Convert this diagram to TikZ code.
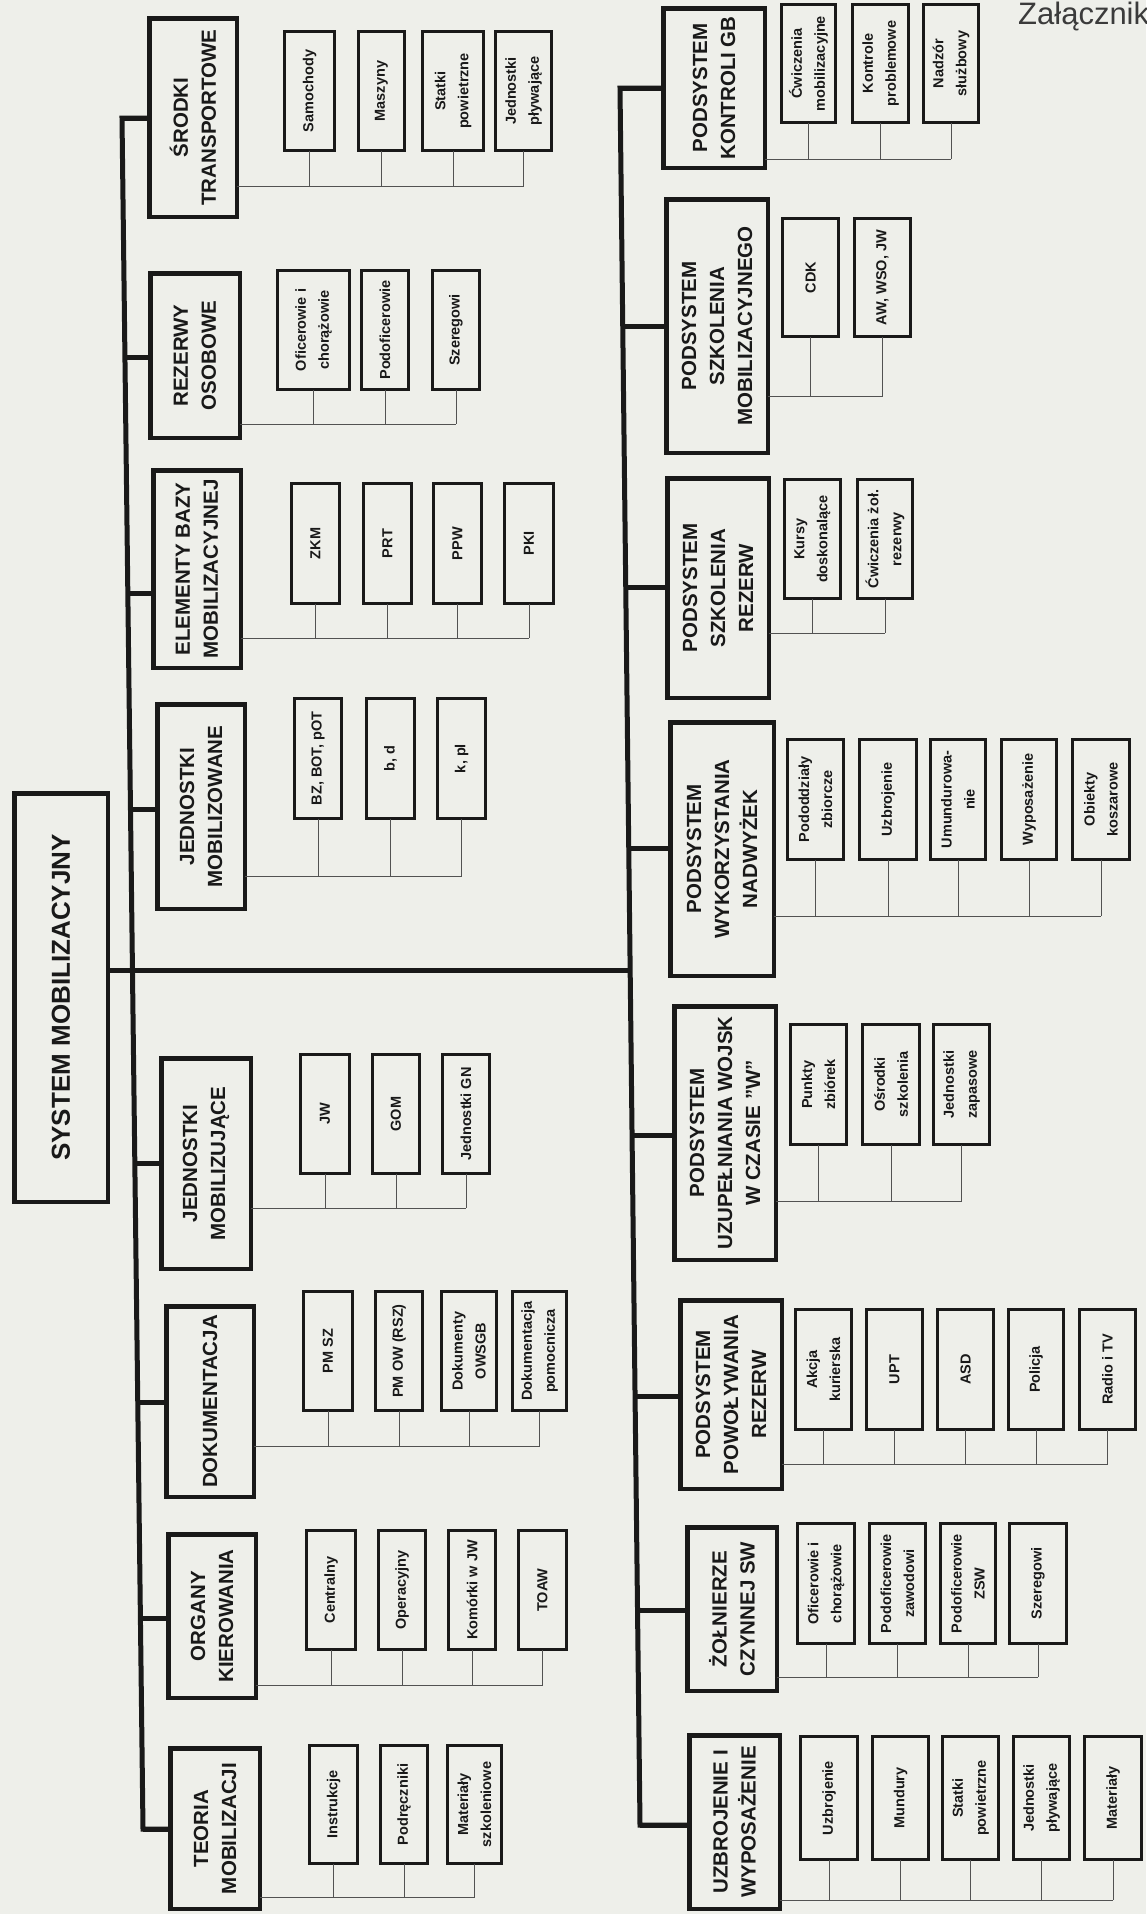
\documentclass[tikz,border=0pt]{standalone}
\usepackage{fontspec}
\setmainfont{Liberation Sans}
\definecolor{paper}{RGB}{238,239,234}
\definecolor{ink}{RGB}{25,25,25}
\tikzset{
  mainbox/.style={draw=ink, line width=4.5pt, inner sep=0pt, outer sep=0pt, align=center, rotate=90, font=\fontsize{20.5}{28}\selectfont\bfseries, text=ink},
  rootbox/.style={mainbox, font=\fontsize{26}{30}\selectfont\bfseries},
  subbox/.style={draw=ink, line width=2.7pt, inner sep=0pt, outer sep=0pt, align=center, rotate=90, font=\fontsize{14.5}{23}\selectfont\bfseries, text=ink},
  spineline/.style={draw=ink, line width=5pt, line join=miter},
  busline/.style={draw=ink!75, line width=1pt},
}
\newcommand\PutBox[8]{%
  \pgfmathsetmacro\bxa{#7-#5-#2}%
  \pgfmathsetmacro\bxb{#8-#6-#2}%
  \pgfmathsetmacro\bxx{(#5+#7)/2}%
  \pgfmathsetmacro\bxy{-(#6+#8)/2}%
  \node[#1, minimum width=\bxb pt, minimum height=\bxa pt] (#3) at (\bxx pt,\bxy pt) {#4};}
\newcommand\MainB[6]{\PutBox{mainbox}{4.5}{#1}{#2}{#3}{#4}{#5}{#6}}
\newcommand\SubB[6]{\PutBox{subbox}{2.7}{#1}{#2}{#3}{#4}{#5}{#6}}
\newcommand\Bus[4]{%
  \coordinate (bb#1) at (0pt,-#2pt);
  \draw[busline] (#1.south |- bb#1) -- (#3.west |- bb#1);
  \foreach \cn in {#4} {\draw[busline] (\cn.west) -- (\cn.west |- bb#1);}}
\newcommand\Conn[3]{%
  \coordinate (cc#1) at (#2pt,-#3pt);
  \draw[spineline] (cc#1) -- (cc#1 -| #1.north);}
\begin{document}
\begin{tikzpicture}[x=1pt,y=1pt]
\fill[paper] (0,0) rectangle (1146,-1914);
\useasboundingbox (0,0) rectangle (1146,-1914);

\node[anchor=base west, font=\fontsize{31}{31}\selectfont, text=ink!85, inner sep=0pt] (zal) at (1018,-24) {Załącznik};

% root
\PutBox{rootbox}{4.5}{root}{SYSTEM MOBILIZACYJNY}{12}{791}{110}{1204}

% ---------- left column ----------
\MainB{L1}{ŚRODKI\\TRANSPORTOWE}{147}{16}{239}{219}
\SubB{L1a}{Samochody}{283}{30}{336}{152}
\SubB{L1b}{Maszyny}{357}{30}{406}{152}
\SubB{L1c}{Statki\\powietrzne}{421}{30}{485}{152}
\SubB{L1d}{Jednostki\\pływające}{494}{30}{553}{152}
\Bus{L1}{186}{L1d}{L1a,L1b,L1c,L1d}
\Conn{L1}{122}{118}

\MainB{L2}{REZERWY\\OSOBOWE}{148}{271}{242}{440}
\SubB{L2a}{Oficerowie i\\chorążowie}{276}{269}{351}{391}
\SubB{L2b}{Podoficerowie}{360}{269}{410}{391}
\SubB{L2c}{Szeregowi}{431}{269}{481}{391}
\Bus{L2}{424}{L2c}{L2a,L2b,L2c}
\Conn{L2}{125}{357}

\MainB{L3}{ELEMENTY BAZY\\MOBILIZACYJNEJ}{151}{468}{243}{670}
\SubB{L3a}{ZKM}{290}{482}{341}{605}
\SubB{L3b}{PRT}{362}{482}{413}{605}
\SubB{L3c}{PPW}{432}{482}{483}{605}
\SubB{L3d}{PKI}{503}{482}{555}{605}
\Bus{L3}{638}{L3d}{L3a,L3b,L3c,L3d}
\Conn{L3}{128}{593}

\MainB{L4}{JEDNOSTKI\\MOBILIZOWANE}{155}{702}{247}{911}
\SubB{L4a}{BZ, BOT, pOT}{293}{697}{343}{820}
\SubB{L4b}{b, d}{365}{697}{416}{820}
\SubB{L4c}{k, pl}{436}{697}{487}{820}
\Bus{L4}{876}{L4c}{L4a,L4b,L4c}
\Conn{L4}{130.5}{809}

\MainB{L5}{JEDNOSTKI\\MOBILIZUJĄCE}{159}{1056}{253}{1271}
\SubB{L5a}{JW}{299}{1053}{351}{1175}
\SubB{L5b}{GOM}{371}{1053}{421}{1175}
\SubB{L5c}{Jednostki GN}{441}{1053}{491}{1175}
\Bus{L5}{1208}{L5c}{L5a,L5b,L5c}
\Conn{L5}{135}{1163}

\MainB{L6}{DOKUMENTACJA}{164}{1304}{256}{1499}
\SubB{L6a}{PM SZ}{302}{1290}{354}{1412}
\SubB{L6b}{PM OW (RSZ)}{374}{1290}{424}{1412}
\SubB{L6c}{Dokumenty\\OWSGB}{440}{1290}{498}{1412}
\SubB{L6d}{Dokumentacja\\pomocnicza}{511}{1290}{568}{1412}
\Bus{L6}{1446}{L6d}{L6a,L6b,L6c,L6d}
\Conn{L6}{138}{1402}

\MainB{L7}{ORGANY\\KIEROWANIA}{166}{1532}{258}{1700}
\SubB{L7a}{Centralny}{305}{1529}{357}{1651}
\SubB{L7b}{Operacyjny}{377}{1529}{427}{1651}
\SubB{L7c}{Komórki w JW}{447}{1529}{497}{1651}
\SubB{L7d}{TOAW}{517}{1529}{568}{1651}
\Bus{L7}{1685}{L7d}{L7a,L7b,L7c,L7d}
\Conn{L7}{140.5}{1618}

\MainB{L8}{TEORIA\\MOBILIZACJI}{168}{1746}{262}{1911}
\SubB{L8a}{Instrukcje}{308}{1744}{359}{1865}
\SubB{L8b}{Podręczniki}{379}{1744}{429}{1865}
\SubB{L8c}{Materiały\\szkoleniowe}{446}{1744}{503}{1865}
\Bus{L8}{1897}{L8c}{L8a,L8b,L8c}
\Conn{L8}{143}{1829}

\draw[spineline] (ccL1 -| L1.north) -- (ccL1) -- (ccL8) -- (ccL8 -| L8.north);

% ---------- right column ----------
\MainB{R1}{PODSYSTEM\\KONTROLI GB}{661}{6}{767}{170}
\SubB{R1a}{Ćwiczenia\\mobilizacyjne}{780}{3}{837}{124}
\SubB{R1b}{Kontrole\\problemowe}{851}{3}{910}{124}
\SubB{R1c}{Nadzór\\służbowy}{922}{3}{980}{124}
\Bus{R1}{159}{R1c}{R1a,R1b,R1c}
\Conn{R1}{620}{88}

\MainB{R2}{PODSYSTEM\\SZKOLENIA\\MOBILIZACYJNEGO}{664}{197}{770}{455}
\SubB{R2a}{CDK}{781}{217}{840}{338}
\SubB{R2b}{AW, WSO, JW}{853}{217}{912}{338}
\Bus{R2}{396}{R2b}{R2a,R2b}
\Conn{R2}{622.7}{326}

\MainB{R3}{PODSYSTEM\\SZKOLENIA\\REZERW}{665}{476}{771}{700}
\SubB{R3a}{Kursy\\doskonalące}{783}{478}{842}{600}
\SubB{R3b}{Ćwiczenia żoł.\\rezerwy}{856}{478}{914}{600}
\Bus{R3}{633}{R3b}{R3a,R3b}
\Conn{R3}{625.7}{587}

\MainB{R4}{PODSYSTEM\\WYKORZYSTANIA\\NADWYŻEK}{668}{720}{776}{978}
\SubB{R4a}{Pododdziały\\zbiorcze}{786}{738}{845}{861}
\SubB{R4b}{Uzbrojenie}{858}{738}{918}{861}
\SubB{R4c}{Umundurowa-\\nie}{929}{738}{987}{861}
\SubB{R4d}{Wyposażenie}{1000}{738}{1058}{861}
\SubB{R4e}{Obiekty\\koszarowe}{1071}{738}{1131}{861}
\Bus{R4}{916}{R4e}{R4a,R4b,R4c,R4d,R4e}
\Conn{R4}{628.7}{848}

\MainB{R5}{PODSYSTEM\\UZUPEŁNIANIA WOJSK\\W CZASIE "W"}{672}{1004}{778}{1262}
\SubB{R5a}{Punkty\\zbiórek}{789}{1023}{848}{1146}
\SubB{R5b}{Ośrodki\\szkolenia}{861}{1023}{921}{1146}
\SubB{R5c}{Jednostki\\zapasowe}{932}{1023}{991}{1146}
\Bus{R5}{1201}{R5c}{R5a,R5b,R5c}
\Conn{R5}{632.1}{1135}

\MainB{R6}{PODSYSTEM\\POWOŁYWANIA\\REZERW}{678}{1298}{784}{1491}
\SubB{R6a}{Akcja\\kurierska}{794}{1308}{853}{1431}
\SubB{R6b}{UPT}{865}{1308}{924}{1431}
\SubB{R6c}{ASD}{936}{1308}{995}{1431}
\SubB{R6d}{Policja}{1007}{1308}{1065}{1431}
\SubB{R6e}{Radio i TV}{1078}{1308}{1137}{1431}
\Bus{R6}{1464}{R6e}{R6a,R6b,R6c,R6d,R6e}
\Conn{R6}{635.1}{1396}

\MainB{R7}{ŻOŁNIERZE\\CZYNNEJ SW}{685}{1525}{779}{1693}
\SubB{R7a}{Oficerowie i\\chorążowie}{796}{1522}{856}{1645}
\SubB{R7b}{Podoficerowie\\zawodowi}{868}{1522}{927}{1645}
\SubB{R7c}{Podoficerowie\\ZSW}{939}{1522}{997}{1645}
\SubB{R7d}{Szeregowi}{1008}{1522}{1068}{1645}
\Bus{R7}{1677}{R7d}{R7a,R7b,R7c,R7d}
\Conn{R7}{637.5}{1610}

\MainB{R8}{UZBROJENIE I\\WYPOSAŻENIE}{687}{1733}{782}{1911}
\SubB{R8a}{Uzbrojenie}{799}{1735}{859}{1861}
\SubB{R8b}{Mundury}{871}{1735}{930}{1861}
\SubB{R8c}{Statki\\powietrzne}{941}{1735}{1000}{1861}
\SubB{R8d}{Jednostki\\pływające}{1012}{1735}{1071}{1861}
\SubB{R8e}{Materiały}{1083}{1735}{1143}{1861}
\Bus{R8}{1900}{R8e}{R8a,R8b,R8c,R8d,R8e}
\Conn{R8}{640}{1825}

\draw[spineline] (ccR1 -| R1.north) -- (ccR1) -- (ccR8) -- (ccR8 -| R8.north);

% main trunk from root to right spine
\coordinate (mR) at (630pt,-970pt);
\draw[spineline] (root.south |- mR) -- (mR);
\end{tikzpicture}
\end{document}
